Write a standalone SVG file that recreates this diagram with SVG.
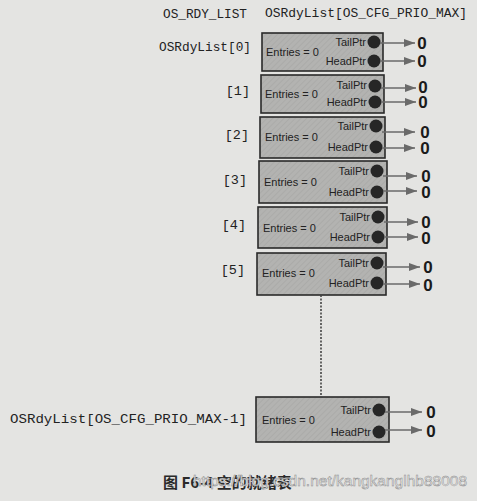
<svg xmlns="http://www.w3.org/2000/svg" width="477" height="501" viewBox="0 0 477 501">
<defs>
<style>
.box{fill:url(#hatch);stroke:#2a2a2a;stroke-width:1.6}
.dot{fill:#262626}
.lbl{font-family:"Liberation Sans",Arial,sans-serif;font-size:11px;fill:#222}
.mono{font-family:"Liberation Mono","Courier New",monospace;font-size:13.5px;fill:#222}
.zero{font-family:"Liberation Sans",Arial,sans-serif;font-size:17px;font-weight:bold;fill:#1a1a1a;text-anchor:middle}
.arr{stroke:#6a6a6a;stroke-width:1.4;fill:none;marker-end:url(#ah)}
.cap{font-family:"Noto Sans CJK SC","Liberation Sans",sans-serif;font-size:15px;font-weight:bold;fill:#2a2a2a}
.wm{font-family:"Liberation Sans",Arial,sans-serif;font-size:15.5px;fill:#eeeeee;stroke:#8a8a8a;stroke-width:0.5}
</style>
<pattern id="hatch" patternUnits="userSpaceOnUse" width="4" height="4" patternTransform="rotate(45)">
<rect width="4" height="4" fill="#b3b3b1"/>
<line x1="0" y1="0" x2="0" y2="4" stroke="#a4a4a2" stroke-width="1"/>
</pattern>
<marker id="ah" markerUnits="userSpaceOnUse" markerWidth="11" markerHeight="8" refX="11" refY="4" orient="auto">
<path d="M0,0 L11,4 L0,8 z" fill="#6a6a6a"/>
</marker>
</defs>
<rect width="477" height="501" fill="#e4e4e2"/>
<text class="mono" x="163" y="18" textLength="84" lengthAdjust="spacingAndGlyphs">OS_RDY_LIST</text>
<text class="mono" x="265" y="17" textLength="202" lengthAdjust="spacingAndGlyphs">OSRdyList[OS_CFG_PRIO_MAX]</text>

<g id="node0">
<rect class="box" x="262" y="33" width="121" height="38"/>
<text class="mono" x="159" y="51" textLength="92" lengthAdjust="spacingAndGlyphs">OSRdyList[0]</text>
<text class="lbl" x="266" y="56">Entries = 0</text>
<text class="lbl" x="366" y="46" text-anchor="end">TailPtr</text>
<text class="lbl" x="366" y="65" text-anchor="end">HeadPtr</text>
<circle class="dot" cx="374" cy="42" r="6.5"/>
<circle class="dot" cx="374" cy="61" r="6.5"/>
<text class="zero" x="422" y="49">0</text>
<text class="zero" x="422" y="67">0</text>
</g>
<g id="node1">
<rect class="box" x="261" y="75" width="123" height="38"/>
<text class="mono" x="250" y="95" text-anchor="end">[1]</text>
<text class="lbl" x="265" y="98">Entries = 0</text>
<text class="lbl" x="367" y="89" text-anchor="end">TailPtr</text>
<text class="lbl" x="367" y="106" text-anchor="end">HeadPtr</text>
<circle class="dot" cx="375" cy="86" r="6.5"/>
<circle class="dot" cx="375" cy="102" r="6.5"/>
<text class="zero" x="423" y="93">0</text>
<text class="zero" x="423" y="108">0</text>
</g>
<g id="node2">
<rect class="box" x="260" y="117" width="125" height="41"/>
<text class="mono" x="249" y="139" text-anchor="end">[2]</text>
<text class="lbl" x="265" y="141">Entries = 0</text>
<text class="lbl" x="368" y="130" text-anchor="end">TailPtr</text>
<text class="lbl" x="368" y="151" text-anchor="end">HeadPtr</text>
<circle class="dot" cx="376" cy="126" r="6.5"/>
<circle class="dot" cx="376" cy="147" r="6.5"/>
<text class="zero" x="425" y="138">0</text>
<text class="zero" x="425" y="154">0</text>
</g>
<g id="node3">
<rect class="box" x="259" y="161" width="128" height="42"/>
<text class="mono" x="247" y="184" text-anchor="end">[3]</text>
<text class="lbl" x="264" y="186">Entries = 0</text>
<text class="lbl" x="369" y="175" text-anchor="end">TailPtr</text>
<text class="lbl" x="369" y="196" text-anchor="end">HeadPtr</text>
<circle class="dot" cx="377" cy="171" r="6.5"/>
<circle class="dot" cx="377" cy="192" r="6.5"/>
<text class="zero" x="426" y="182">0</text>
<text class="zero" x="426" y="198">0</text>
</g>
<g id="node4">
<rect class="box" x="258" y="207" width="129" height="41"/>
<text class="mono" x="246" y="229" text-anchor="end">[4]</text>
<text class="lbl" x="263" y="232">Entries = 0</text>
<text class="lbl" x="370" y="221" text-anchor="end">TailPtr</text>
<text class="lbl" x="370" y="241" text-anchor="end">HeadPtr</text>
<circle class="dot" cx="378" cy="217" r="6.5"/>
<circle class="dot" cx="378" cy="237" r="6.5"/>
<text class="zero" x="426" y="228">0</text>
<text class="zero" x="426" y="244">0</text>
</g>
<g id="node5">
<rect class="box" x="257" y="253" width="129" height="42"/>
<text class="mono" x="245" y="274" text-anchor="end">[5]</text>
<text class="lbl" x="262" y="277">Entries = 0</text>
<text class="lbl" x="369" y="267" text-anchor="end">TailPtr</text>
<text class="lbl" x="369" y="287" text-anchor="end">HeadPtr</text>
<circle class="dot" cx="377" cy="263" r="6.5"/>
<circle class="dot" cx="377" cy="283" r="6.5"/>
<text class="zero" x="428" y="273">0</text>
<text class="zero" x="428" y="291">0</text>
</g>
<g id="nodeLast">
<rect class="box" x="256" y="397" width="133" height="45"/>
<text class="mono" x="10" y="423" font-size="14" textLength="237" lengthAdjust="spacingAndGlyphs">OSRdyList[OS_CFG_PRIO_MAX-1]</text>
<text class="lbl" x="262" y="424">Entries = 0</text>
<text class="lbl" x="371" y="414" text-anchor="end">TailPtr</text>
<text class="lbl" x="371" y="436" text-anchor="end">HeadPtr</text>
<circle class="dot" cx="379" cy="410" r="6.5"/>
<circle class="dot" cx="379" cy="432" r="6.5"/>
<text class="zero" x="431" y="418">0</text>
<text class="zero" x="431" y="437">0</text>
</g>

<g id="connectors">
<path class="arr" d="M380,43 H415"/>
<path class="arr" d="M380,61 H415"/>
<path class="arr" d="M381,88 H416"/>
<path class="arr" d="M381,102 H416"/>
<path class="arr" d="M382,132 H415"/>
<path class="arr" d="M382,148 H415"/>
<path class="arr" d="M383,176 H417"/>
<path class="arr" d="M383,191 H417"/>
<path class="arr" d="M384,222 H418"/>
<path class="arr" d="M384,237 H418"/>
<path class="arr" d="M383,267 H420"/>
<path class="arr" d="M383,284 H420"/>
<path class="arr" d="M385,412 H422"/>
<path class="arr" d="M385,430 H422"/>
<line x1="321" y1="295" x2="321" y2="397" stroke="#444" stroke-width="1.6" stroke-dasharray="2,1.5"/>
</g>

<text class="cap" x="163" y="488">图 F6-4 空的就绪表</text>
<text class="wm" x="193" y="486" textLength="274" lengthAdjust="spacingAndGlyphs">https://blog.csdn.net/kangkanglhb88008</text>
</svg>
